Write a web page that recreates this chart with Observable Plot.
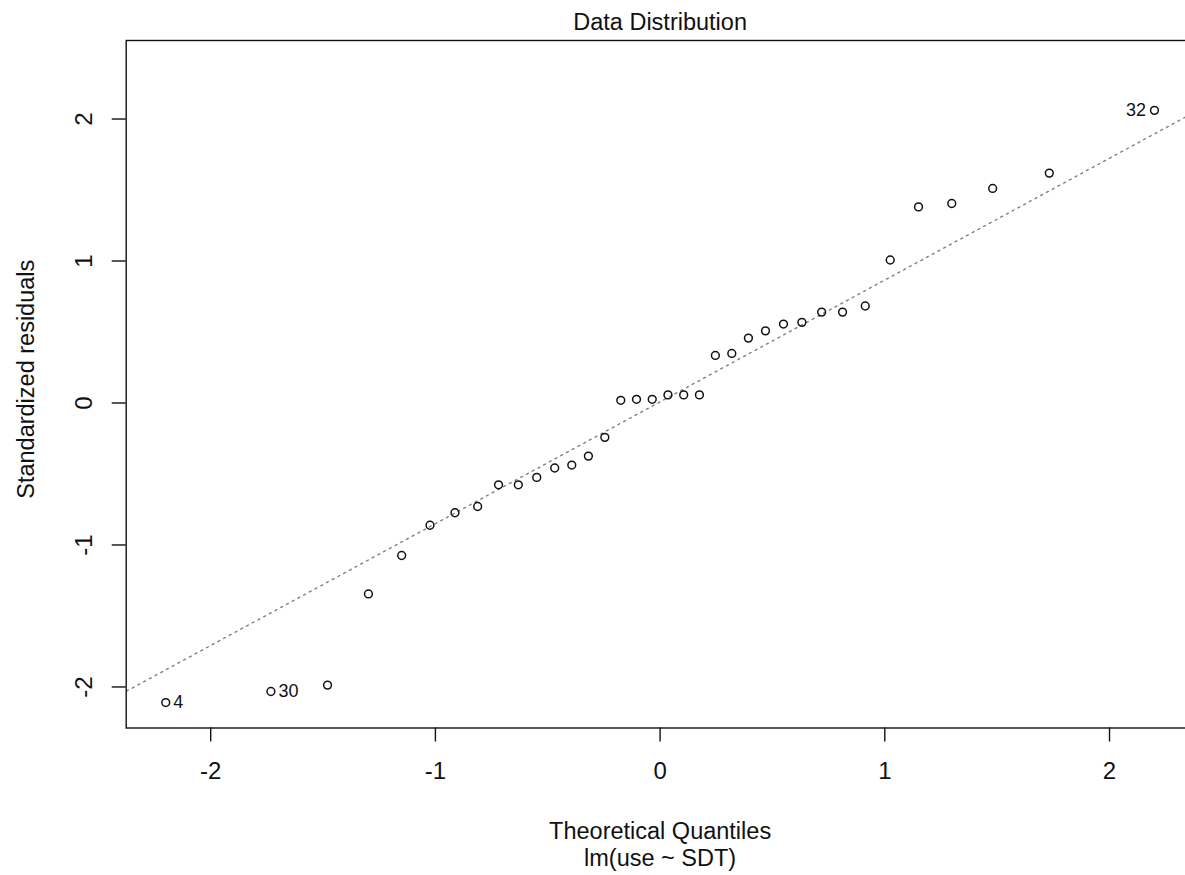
<!DOCTYPE html>
<html>
<head>
<meta charset="utf-8">
<script src="https://cdn.jsdelivr.net/npm/d3@7"></script>
<script src="https://cdn.jsdelivr.net/npm/@observablehq/plot@0.6"></script>
<style>
  html, body { margin: 0; padding: 0; background: #fff; overflow: hidden; }
  #chart svg { display: block; max-width: none !important; overflow: hidden; }
</style>
</head>
<body>
<div id="chart"></div>
<script>
// Theoretical quantiles (normal scores for n = 36)
const theoretical = [
  -2.200, -1.732, -1.480, -1.298, -1.150, -1.024, -0.913, -0.812, -0.719,
  -0.631, -0.549, -0.469, -0.393, -0.319, -0.246, -0.175, -0.105, -0.035,
   0.035,  0.105,  0.175,  0.246,  0.319,  0.393,  0.469,  0.549,  0.631,
   0.719,  0.812,  0.913,  1.024,  1.150,  1.298,  1.480,  1.732,  2.200
];
// Standardized residuals (sorted)
const residuals = [
  -2.110, -2.032, -1.987, -1.345, -1.074, -0.861, -0.773, -0.729, -0.576,
  -0.576, -0.524, -0.458, -0.437, -0.374, -0.242,  0.019,  0.026,  0.026,
   0.057,  0.057,  0.057,  0.335,  0.349,  0.457,  0.508,  0.556,  0.568,
   0.640,  0.640,  0.683,  1.007,  1.381,  1.405,  1.511,  1.619,  2.061
];
// Labelled observations: index in sorted order -> observation number
const labelIndex = [0, 1, 35];
const labelText = ["4", "30", "32"];
const labelSide = ["right", "right", "left"];
// Reference (qq) line endpoints
const lineX = [-2.4, 2.4];
const lineY = [-2.051, 2.067];
// Tick values
const xTicks = [-2, -1, 0, 1, 2];
const yTicks = [-2, -1, 0, 1, 2];

const title = "Data Distribution";
const xTitle1 = "Theoretical Quantiles";
const xTitle2 = "lm(use ~ SDT)";
const yTitle = "Standardized residuals";

const points = theoretical.map((x, i) => ({x, y: residuals[i]}));
const labels = labelIndex.map((idx, k) => ({
  x: theoretical[idx], y: residuals[idx], text: labelText[k], side: labelSide[k]
}));
const qqline = lineX.map((x, i) => ({x, y: lineY[i]}));

const FONT = "'Liberation Sans', Arial, Helvetica, sans-serif";
const INK = "#111";

const chart = Plot.plot({
  width: 1185,
  height: 875,
  marginLeft: 125.7,
  marginRight: -8.5,
  marginTop: 40,
  marginBottom: 147.5,
  style: {fontFamily: FONT, background: "#fff", color: INK, maxWidth: "none", overflow: "hidden"},
  x: {domain: [-2.376, 2.376]},
  y: {domain: [-2.289, 2.553]},
  marks: [
    Plot.line(qqline, {x: "x", y: "y", stroke: "#7f7f7f", strokeWidth: 1.4, strokeDasharray: "2,4.5", clip: true}),
    Plot.dot(points, {x: "x", y: "y", r: 3.9, stroke: INK, strokeWidth: 1.5, fill: "none"}),
    Plot.text(labels.filter(d => d.side === "right"), {x: "x", y: "y", text: "text", dx: 7.5, textAnchor: "start", lineAnchor: "middle", fontSize: 18, fill: INK}),
    Plot.text(labels.filter(d => d.side === "left"), {x: "x", y: "y", text: "text", dx: -8.5, textAnchor: "end", lineAnchor: "middle", fontSize: 18, fill: INK}),
    Plot.frame({stroke: INK, strokeWidth: 1.4}),
    Plot.axisX({ticks: xTicks, tickSize: 14, tickPadding: 20, tickFormat: d => String(d), fontSize: 24, label: null, stroke: INK, strokeWidth: 1.4, fill: INK}),
    Plot.axisY({ticks: yTicks, tickSize: 14, tickFormat: () => "", label: null, stroke: INK, strokeWidth: 1.4}),
    Plot.text(yTicks, {y: d => d, text: d => String(d), frameAnchor: "left", dx: -34, rotate: -90, textAnchor: "middle", lineAnchor: "bottom", fontSize: 24, fill: INK}),
    Plot.text([title], {x: () => 0, frameAnchor: "top", dy: -11, lineAnchor: "bottom", fontSize: 23.5, fill: INK}),
    Plot.text([xTitle1], {x: () => 0, frameAnchor: "bottom", dy: 111, lineAnchor: "bottom", fontSize: 23.5, fill: INK}),
    Plot.text([xTitle2], {x: () => 0, frameAnchor: "bottom", dy: 138, lineAnchor: "bottom", fontSize: 23.5, fill: INK}),
    Plot.text([yTitle], {frameAnchor: "left", dx: -92.7, dy: -5, rotate: -90, textAnchor: "middle", lineAnchor: "bottom", fontSize: 23.5, fill: INK})
  ]
});
document.getElementById("chart").appendChild(chart);
</script>
</body>
</html>
